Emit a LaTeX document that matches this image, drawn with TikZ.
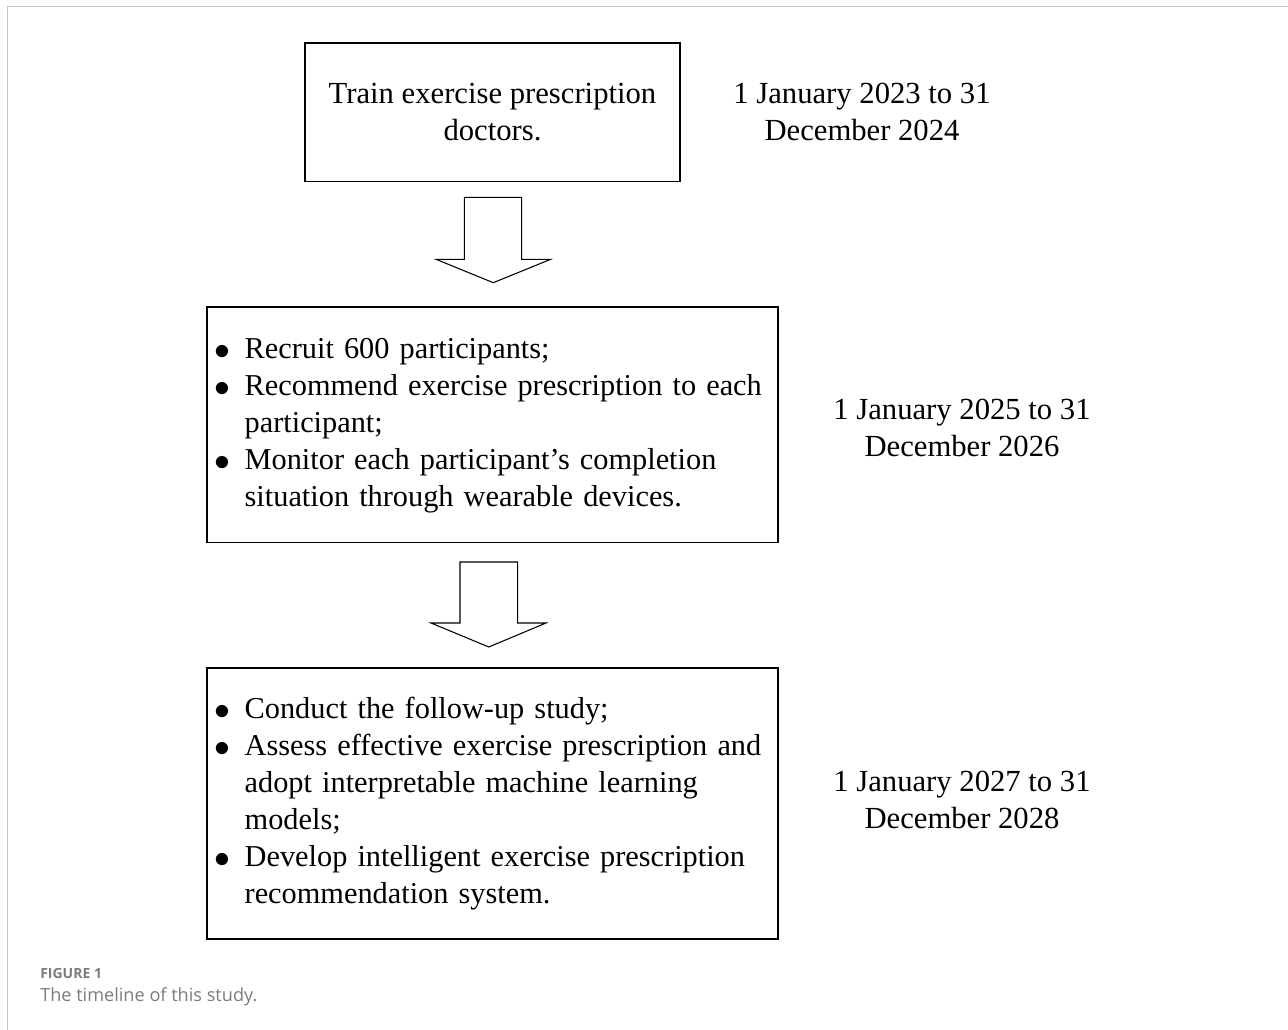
\documentclass[tikz,border=0pt]{standalone}
\usepackage{graphicx}
\usepackage{fontspec}
\setmainfont{Liberation Serif}
\newfontfamily\capfont{Open Sans}
\definecolor{framegray}{HTML}{C8C8C8}
\definecolor{capgray}{HTML}{7C7C7C}
\newcommand{\dotmark}{\hspace{-1pt}\raisebox{-0.8pt}{\scalebox{1.15}{$\bullet$}}}

\tikzset{
	box/.style={draw, rectangle, line width=1pt, inner sep=0pt, font=\fontsize{23}{27.75}\selectfont},
	listbox/.style={box, text width=414.75pt, inner xsep=6.75pt, align=left, font=\fontsize{22.75}{27.75}\selectfont},
	datetext/.style={align=center, inner sep=0pt, font=\fontsize{23}{27.75}\selectfont},
	blockarrow/.style={draw, line width=0.8pt, line join=miter}
}

\begin{document}
\begin{tikzpicture}[x=0.75pt, y=-0.75pt]
				\useasboundingbox (0,0) rectangle (1288,1030);
				\draw[framegray, line width=0.75pt] (7,1030) -- (7,7) -- (1288,7);
				\node[box, minimum width=281.25pt, minimum height=103.9pt, align=center] (T) at (492.5,112.4) {Train exercise prescription\\doctors.};
				\node[listbox, minimum height=176.6pt] (R) at (492.5,424.7) {\noindent\begin{tabular}{@{}p{21.5pt}@{}l@{}}
					\dotmark & Recruit 600 participants;\\
					\dotmark & Recommend exercise prescription to each\\
					& participant;\\
					\dotmark & Monitor each participant's completion\\
					& situation through wearable devices.
				\end{tabular}};
				\node[listbox, minimum height=203.25pt] (F) at (492.5,803.5) {\noindent\begin{tabular}{@{}p{21.5pt}@{}l@{}}
					\dotmark & Conduct the follow-up study;\\
					\dotmark & Assess effective exercise prescription and\\
					& adopt interpretable machine learning\\
					& models;\\
					\dotmark & Develop intelligent exercise prescription\\
					& recommendation system.
				\end{tabular}};
				\node[datetext] (D1) at (862,111.5) {1 January 2023 to 31\\December 2024};
				\node[datetext] (D2) at (962,427.5) {1 January 2025 to 31\\December 2026};
				\node[datetext] (D3) at (962,799.5) {1 January 2027 to 31\\December 2028};
				\coordinate (a1) at (493.3,197.3);
				\coordinate (a2) at (488.8,562);
				\draw[blockarrow, shift={(a1)}] (-29,0) -- (28.4,0) -- (28.4,62) -- (57.4,62) -- (0,85.4) -- (-57.3,62) -- (-29,62) -- cycle;
				\draw[blockarrow, shift={(a2)}] (-28.8,0) -- (28.9,0) -- (28.9,61) -- (57.2,61) -- (0,85) -- (-57.8,61) -- (-28.8,61) -- cycle;
				\node[anchor=base west, inner sep=0pt, text=capgray, font=\capfont\bfseries\fontsize{10.5}{12}\selectfont] (fig) at (40,978.3) {FIGURE 1};
				\node[anchor=base west, inner sep=0pt, text=capgray, font=\capfont\fontsize{13.6}{16}\selectfont] (cap) at (40,1001.7) {The timeline of this study.};
			\end{tikzpicture}
\end{document}
